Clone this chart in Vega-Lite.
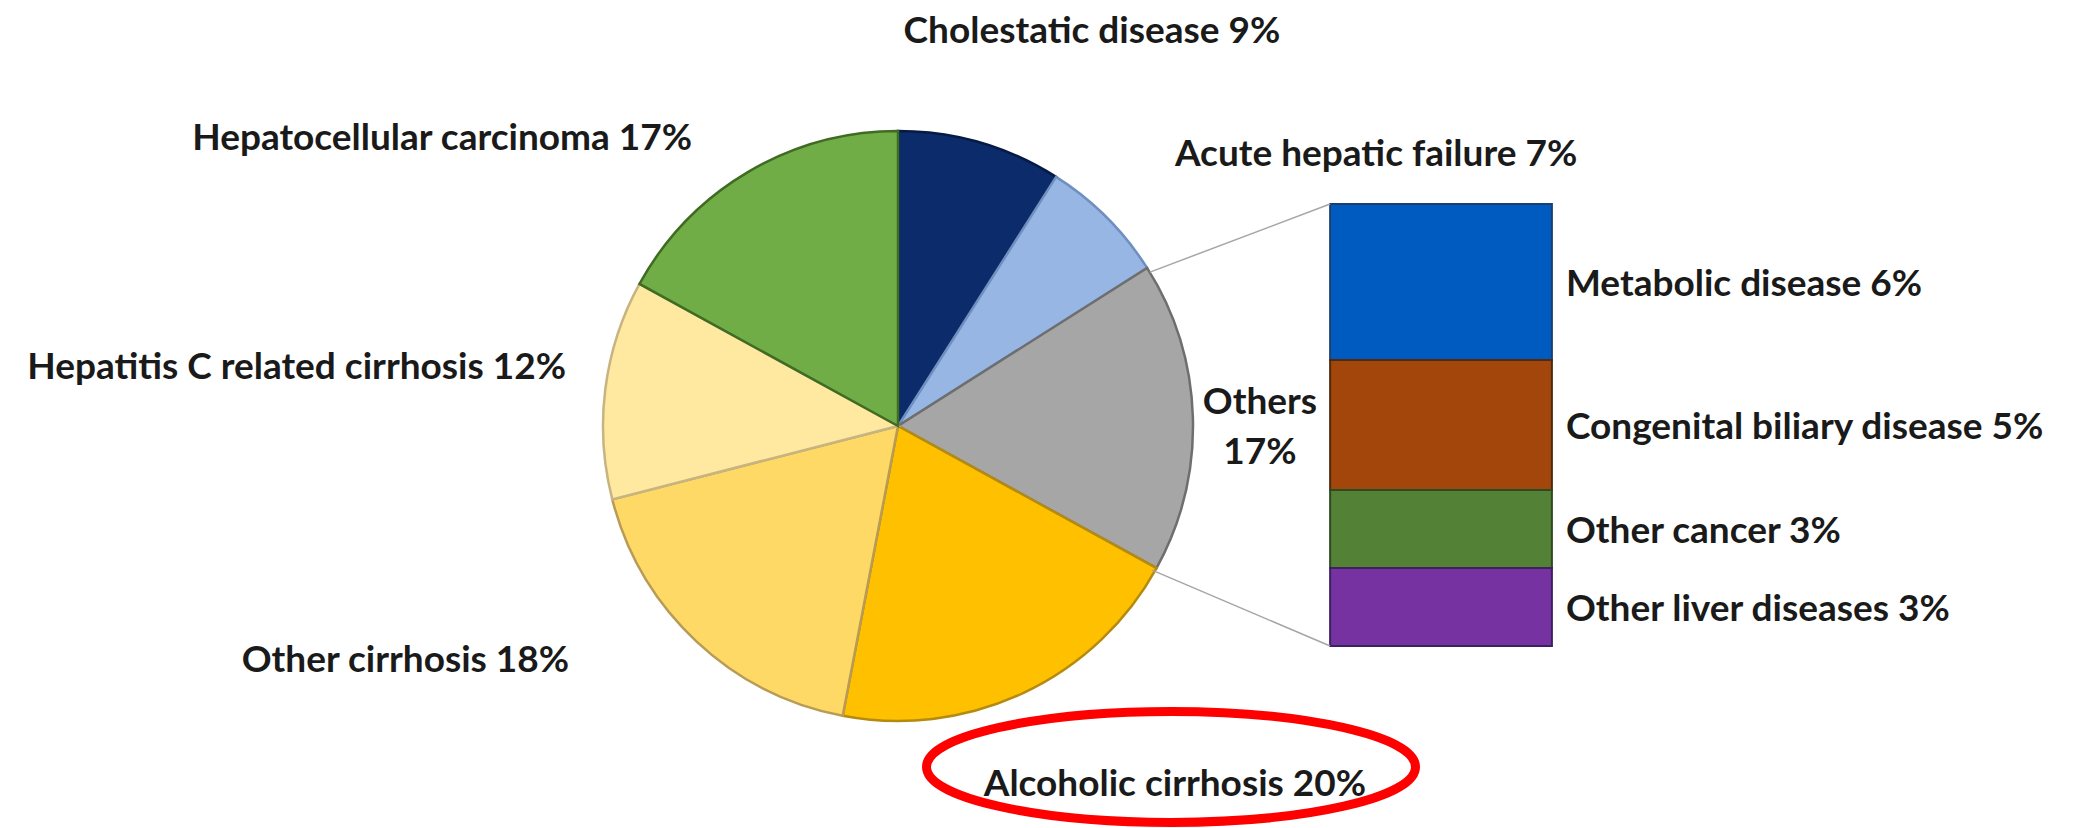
{
  "$schema": "https://vega.github.io/schema/vega-lite/v6.json",
  "autosize": {"type": "none"},
  "width": 1796,
  "height": 804,
  "padding": {"left": 0, "top": 24, "right": 279, "bottom": 0},
  "background": "white",
  "config": {
    "view": {"stroke": null},
    "text": {"font": "Lato", "fontWeight": "bold", "fontSize": 37, "color": "#1a1a1a", "baseline": "middle", "dy": 3}
  },
  "datasets": {
    "slices": [
      {"cause": "Cholestatic disease", "value": 9, "order": 1, "label": "Cholestatic disease 9%"},
      {"cause": "Acute hepatic failure", "value": 7, "order": 2, "label": "Acute hepatic failure 7%"},
      {"cause": "Others", "value": 17, "order": 3, "label": "Others\n17%"},
      {"cause": "Alcoholic cirrhosis", "value": 20, "order": 4, "label": "Alcoholic cirrhosis 20%"},
      {"cause": "Other cirrhosis", "value": 18, "order": 5, "label": "Other cirrhosis 18%"},
      {"cause": "Hepatitis C related cirrhosis", "value": 12, "order": 6, "label": "Hepatitis C related cirrhosis 12%"},
      {"cause": "Hepatocellular carcinoma", "value": 17, "order": 7, "label": "Hepatocellular carcinoma 17%"}
    ],
    "others": [
      {"cause": "Metabolic disease", "value": 6, "order": 4, "label": "Metabolic disease 6%"},
      {"cause": "Congenital biliary disease", "value": 5, "order": 3, "label": "Congenital biliary disease 5%"},
      {"cause": "Other cancer", "value": 3, "order": 2, "label": "Other cancer 3%"},
      {"cause": "Other liver diseases", "value": 3, "order": 1, "label": "Other liver diseases 3%"}
    ]
  },
  "layer": [
    {
      "data": {"name": "slices"},
      "mark": {"type": "arc", "radius": 295, "strokeWidth": 2.5},
      "encoding": {
        "theta": {"field": "value", "type": "quantitative", "stack": true},
        "order": {"field": "order", "type": "quantitative"},
        "fill": {
          "field": "cause", "type": "nominal", "legend": null,
          "scale": {
            "domain": ["Cholestatic disease", "Acute hepatic failure", "Others", "Alcoholic cirrhosis", "Other cirrhosis", "Hepatitis C related cirrhosis", "Hepatocellular carcinoma", "Metabolic disease", "Congenital biliary disease", "Other cancer", "Other liver diseases"],
            "range": ["#0c2b6b", "#97b6e4", "#a6a6a6", "#ffc000", "#ffd966", "#ffe9a0", "#70ad47", "#005bc0", "#a2460b", "#538135", "#7532a0"]
          }
        },
        "stroke": {
          "field": "cause", "type": "nominal", "legend": null,
          "scale": {
            "domain": ["Cholestatic disease", "Acute hepatic failure", "Others", "Alcoholic cirrhosis", "Other cirrhosis", "Hepatitis C related cirrhosis", "Hepatocellular carcinoma", "Metabolic disease", "Congenital biliary disease", "Other cancer", "Other liver diseases"],
            "range": ["#071a45", "#6f8fc0", "#6e6e6e", "#b48a10", "#b89b55", "#c8b480", "#3f6b22", "#1c3f73", "#4f2a10", "#2f4a22", "#3e2060"]
          }
        }
      }
    },
    {
      "data": {"name": "others"},
      "transform": [{"stack": "value", "groupby": [], "sort": [{"field": "order", "order": "ascending"}], "as": ["v0", "v1"]}],
      "mark": {"type": "rect", "strokeWidth": 2},
      "encoding": {
        "x": {"datum": 16.62, "type": "quantitative", "axis": null, "scale": {"domain": [-34.538, 34.538], "nice": false, "zero": false}},
        "x2": {"datum": 25.15},
        "y": {"field": "v0", "type": "quantitative", "axis": null, "scale": {"domain": [-7, 23.923], "nice": false, "zero": false}},
        "y2": {"field": "v1"},
        "fill": {"field": "cause", "type": "nominal", "legend": null},
        "stroke": {"field": "cause", "type": "nominal", "legend": null}
      }
    },
    {
      "data": {"name": "slices"},
      "transform": [{"filter": "datum.cause === 'Others'"}],
      "mark": {"type": "rule", "color": "#a6a6a6", "strokeWidth": 1.5},
      "encoding": {
        "x": {"datum": 9.69, "type": "quantitative"},
        "y": {"datum": 14.38, "type": "quantitative"},
        "x2": {"datum": 16.62},
        "y2": {"datum": 17}
      }
    },
    {
      "data": {"name": "slices"},
      "transform": [{"filter": "datum.cause === 'Others'"}],
      "mark": {"type": "rule", "color": "#a6a6a6", "strokeWidth": 1.5},
      "encoding": {
        "x": {"datum": 9.77, "type": "quantitative"},
        "y": {"datum": 2.92, "type": "quantitative"},
        "x2": {"datum": 16.62},
        "y2": {"datum": 0}
      }
    },
    {
      "data": {"name": "slices"},
      "transform": [{"filter": "datum.cause === 'Alcoholic cirrhosis'"}],
      "mark": {"type": "point", "shape": "M-1,0C-1,-0.1254,-0.5523,-0.227,0,-0.227C0.5523,-0.227,1,-0.1254,1,0C1,0.1254,0.5523,0.227,0,0.227C-0.5523,0.227,-1,0.1254,-1,0Z", "size": 239121, "filled": false, "color": "#ff0000", "strokeWidth": 9, "opacity": 1},
      "encoding": {
        "x": {"datum": 10.5, "type": "quantitative"},
        "y": {"datum": -4.65, "type": "quantitative"}
      }
    },
    {
      "data": {"name": "slices"},
      "transform": [{"filter": "datum.cause === 'Cholestatic disease'"}],
      "mark": {"type": "text", "align": "center"},
      "encoding": {"x": {"datum": 7.46, "type": "quantitative"}, "y": {"datum": 23.73, "type": "quantitative"}, "text": {"field": "label"}}
    },
    {
      "data": {"name": "slices"},
      "transform": [{"filter": "datum.cause === 'Hepatocellular carcinoma'"}],
      "mark": {"type": "text", "align": "right"},
      "encoding": {"x": {"datum": -7.92, "type": "quantitative"}, "y": {"datum": 19.62, "type": "quantitative"}, "text": {"field": "label"}}
    },
    {
      "data": {"name": "slices"},
      "transform": [{"filter": "datum.cause === 'Acute hepatic failure'"}],
      "mark": {"type": "text", "align": "left"},
      "encoding": {"x": {"datum": 10.65, "type": "quantitative"}, "y": {"datum": 19.0, "type": "quantitative"}, "text": {"field": "label"}}
    },
    {
      "data": {"name": "slices"},
      "transform": [{"filter": "datum.cause === 'Hepatitis C related cirrhosis'"}],
      "mark": {"type": "text", "align": "right"},
      "encoding": {"x": {"datum": -12.77, "type": "quantitative"}, "y": {"datum": 10.81, "type": "quantitative"}, "text": {"field": "label"}}
    },
    {
      "data": {"name": "slices"},
      "transform": [{"filter": "datum.cause === 'Others'"}],
      "mark": {"type": "text", "align": "center", "lineBreak": "\n", "lineHeight": 50},
      "encoding": {"x": {"datum": 13.92, "type": "quantitative"}, "y": {"datum": 9.46, "type": "quantitative"}, "text": {"field": "label"}}
    },
    {
      "data": {"name": "slices"},
      "transform": [{"filter": "datum.cause === 'Other cirrhosis'"}],
      "mark": {"type": "text", "align": "right"},
      "encoding": {"x": {"datum": -12.65, "type": "quantitative"}, "y": {"datum": -0.46, "type": "quantitative"}, "text": {"field": "label"}}
    },
    {
      "data": {"name": "slices"},
      "transform": [{"filter": "datum.cause === 'Alcoholic cirrhosis'"}],
      "mark": {"type": "text", "align": "center"},
      "encoding": {"x": {"datum": 10.65, "type": "quantitative"}, "y": {"datum": -5.23, "type": "quantitative"}, "text": {"field": "label"}}
    },
    {
      "data": {"name": "others"},
      "transform": [{"filter": "datum.cause === 'Metabolic disease'"}],
      "mark": {"type": "text", "align": "left"},
      "encoding": {"x": {"datum": 25.69, "type": "quantitative"}, "y": {"datum": 14, "type": "quantitative"}, "text": {"field": "label"}}
    },
    {
      "data": {"name": "others"},
      "transform": [{"filter": "datum.cause === 'Congenital biliary disease'"}],
      "mark": {"type": "text", "align": "left"},
      "encoding": {"x": {"datum": 25.69, "type": "quantitative"}, "y": {"datum": 8.5, "type": "quantitative"}, "text": {"field": "label"}}
    },
    {
      "data": {"name": "others"},
      "transform": [{"filter": "datum.cause === 'Other cancer'"}],
      "mark": {"type": "text", "align": "left"},
      "encoding": {"x": {"datum": 25.69, "type": "quantitative"}, "y": {"datum": 4.5, "type": "quantitative"}, "text": {"field": "label"}}
    },
    {
      "data": {"name": "others"},
      "transform": [{"filter": "datum.cause === 'Other liver diseases'"}],
      "mark": {"type": "text", "align": "left"},
      "encoding": {"x": {"datum": 25.69, "type": "quantitative"}, "y": {"datum": 1.5, "type": "quantitative"}, "text": {"field": "label"}}
    }
  ]
}
